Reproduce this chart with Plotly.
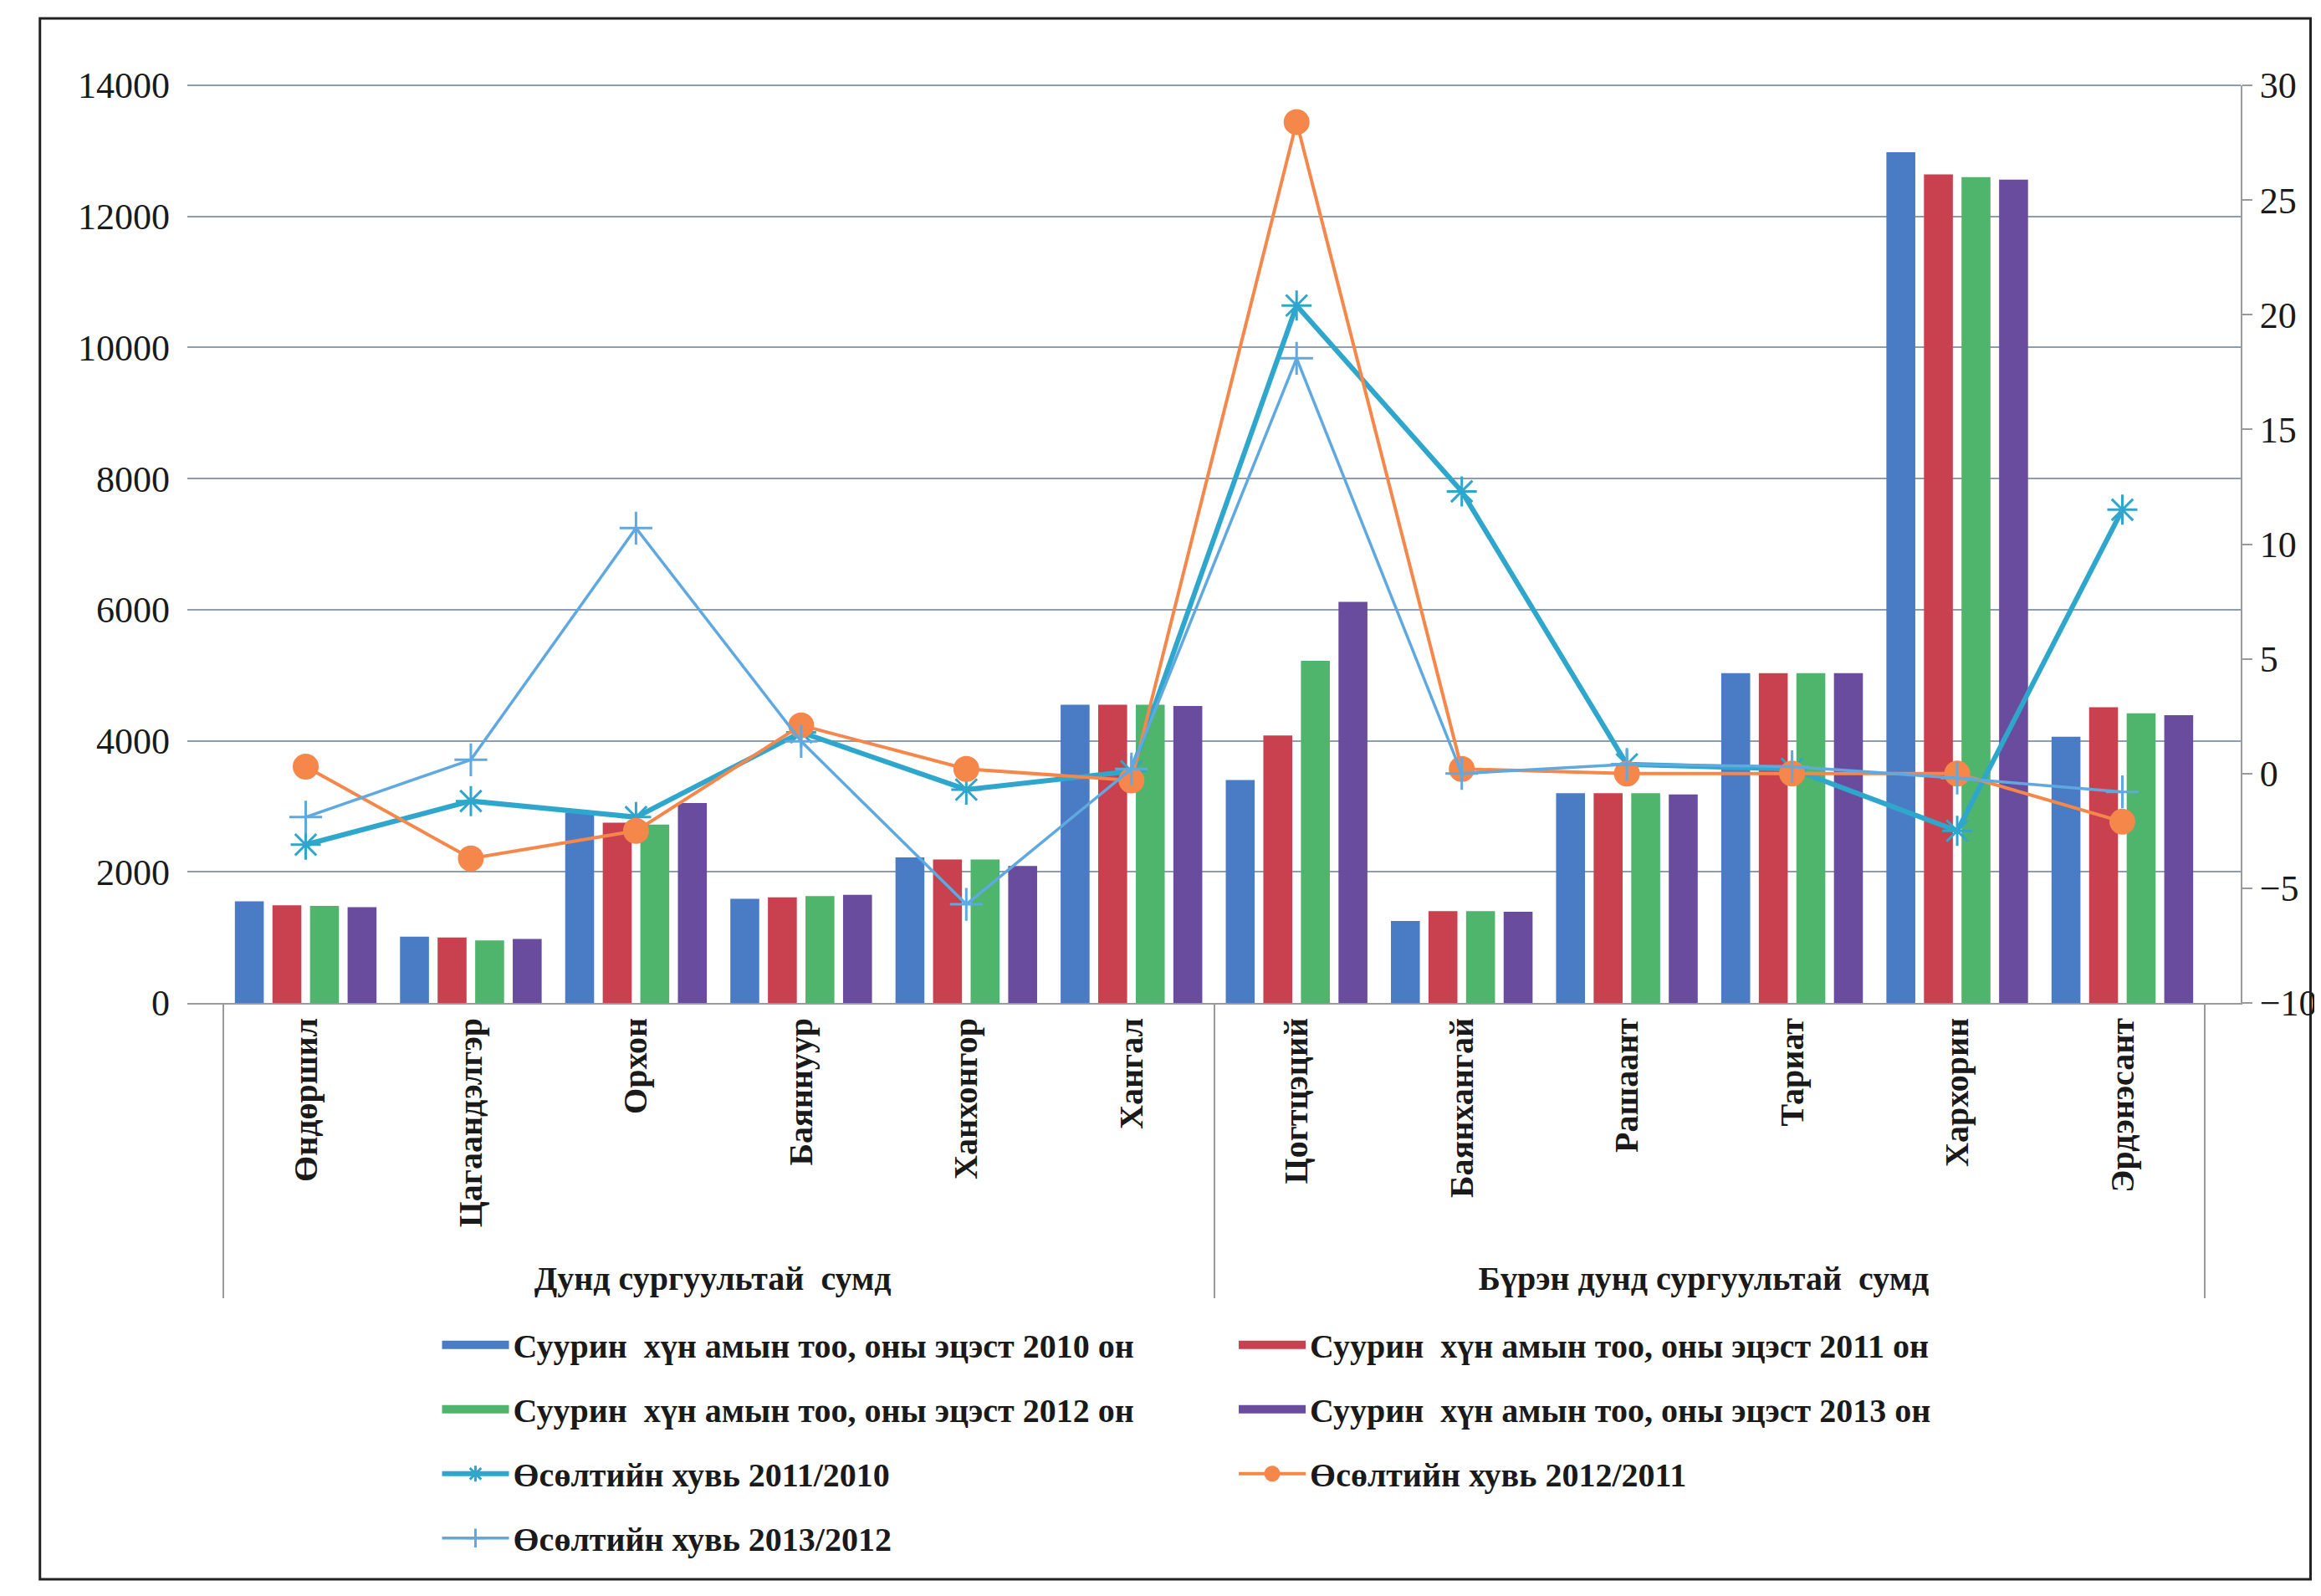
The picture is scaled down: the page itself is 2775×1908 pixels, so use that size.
import plotly.graph_objects as go

# ---------------- data ----------------
categories = ["Өндөршил", "Цагаандэлгэр", "Орхон", "Баяннуур", "Ханхонгор", "Хангал",
              "Цогтцэций", "Баянхангай", "Рашаант", "Тариат", "Хархорин", "Эрдэнэсант"]
groups = ["Дунд сургуультай  сумд"] * 6 + ["Бүрэн дунд сургуультай  сумд"] * 6

pop2010 = [1550, 1010, 2900, 1590, 2220, 4550, 3400, 1250, 3200, 5030, 12980, 4060]
pop2011 = [1490, 1000, 2750, 1610, 2190, 4550, 4080, 1400, 3200, 5030, 12640, 4510]
pop2012 = [1480, 955, 2720, 1630, 2190, 4550, 5220, 1400, 3200, 5030, 12600, 4420]
pop2013 = [1460, 975, 3050, 1650, 2090, 4530, 6120, 1390, 3180, 5030, 12560, 4390]

growth_2011_2010 = [-3.1, -1.2, -1.9, 1.8, -0.7, 0.1, 20.4, 12.3, 0.4, 0.2, -2.5, 11.5]
growth_2012_2011 = [0.3, -3.7, -2.5, 2.1, 0.2, -0.3, 28.4, 0.2, 0.0, 0.0, 0.0, -2.1]
growth_2013_2012 = [-1.9, 0.6, 10.7, 1.4, -5.7, 0.2, 18.1, 0.0, 0.4, 0.3, -0.2, -0.8]

bar_names = ["Суурин  хүн амын тоо, оны эцэст 2010 он",
             "Суурин  хүн амын тоо, оны эцэст 2011 он",
             "Суурин  хүн амын тоо, оны эцэст 2012 он",
             "Суурин  хүн амын тоо, оны эцэст 2013 он"]
line_names = ["Өсөлтийн хувь 2011/2010", "Өсөлтийн хувь 2012/2011", "Өсөлтийн хувь 2013/2012"]

# ---------------- styles ----------------
SERIF = "Liberation Serif"
bar_colors = ["#4a7cc6", "#c9414f", "#4fb56c", "#6a4c9e"]
line_colors = ["#2fa6cc", "#f5874a", "#5fa9e0"]
line_widths = [6, 4, 3.5]
line_symbols = ["asterisk-open", "circle", "cross-thin-open"]
line_sizes = [30, 28, 28]
GRID = "#8e9cb0"

x = [groups, categories]

fig = go.Figure()
for name, vals, col in zip(bar_names, [pop2010, pop2011, pop2012, pop2013], bar_colors):
    fig.add_trace(go.Bar(x=x, y=vals, name=name, marker=dict(color=col, line=dict(width=0)),
                         showlegend=False, legendgroup=name))

for name, vals, col, w, sym, sz in zip(line_names,
                                       [growth_2011_2010, growth_2012_2011, growth_2013_2012],
                                       line_colors, line_widths, line_symbols, line_sizes):
    mk = dict(symbol=sym, size=sz, color=col, line=dict(color=col, width=3))
    fig.add_trace(go.Scatter(x=x, y=vals, name=name, yaxis="y2", mode="lines+markers",
                             line=dict(color=col, width=w), marker=mk, showlegend=False,
                             legendgroup=name))

# legend entries (proxies so the bar swatches are wide rectangles as in the reference)
legend_items = [
    ("legend", bar_names[0], bar_colors[0], "bar", None),
    ("legend", bar_names[2], bar_colors[2], "bar", None),
    ("legend", line_names[0], line_colors[0], "line", 0),
    ("legend", line_names[2], line_colors[2], "line", 2),
    ("legend2", bar_names[1], bar_colors[1], "bar", None),
    ("legend2", bar_names[3], bar_colors[3], "bar", None),
    ("legend2", line_names[1], line_colors[1], "line", 1),
]
for leg, name, col, kind, li in legend_items:
    if kind == "bar":
        fig.add_trace(go.Scatter(x=[None], y=[None], name=name, mode="lines",
                                 line=dict(color=col, width=26), legend=leg,
                                 legendgroup=name, hoverinfo="skip"))
    else:
        fig.add_trace(go.Scatter(x=[None], y=[None], name=name, mode="lines+markers",
                                 line=dict(color=col, width=line_widths[li]),
                                 marker=dict(symbol=line_symbols[li], size=line_sizes[li], color=col,
                                             line=dict(color=col, width=3)),
                                 legend=leg, legendgroup=name, hoverinfo="skip"))

legend_common = dict(orientation="v", xanchor="left", yanchor="top", tracegroupgap=22,
                     bgcolor="rgba(0,0,0,0)", itemwidth=80,
                     font=dict(family=SERIF, size=40, color="#1a1a1a", weight="bold"))

fig.update_layout(
    width=2775, height=1908,
    paper_bgcolor="white", plot_bgcolor="white",
    margin=dict(l=216, r=94, t=94, b=717),
    barmode="group", bargap=0.09, bargroupgap=0.23,
    showlegend=True,
    xaxis=dict(type="multicategory", tickangle=-90, showdividers=True,
               dividercolor="#9a9a9a", dividerwidth=2,
               showline=True, linecolor="#9a9a9a", linewidth=2, ticks="",
               tickfont=dict(family=SERIF, size=40, color="#1a1a1a", weight="bold")),
    yaxis=dict(range=[0, 14000], tick0=0, dtick=2000, showgrid=True, gridcolor=GRID, gridwidth=2,
               zeroline=False, showline=False, ticks="", ticklabelstandoff=20, tickformat="d",
               tickfont=dict(family=SERIF, size=44, color="#1a1a1a")),
    yaxis2=dict(range=[-10, 30], tick0=-10, dtick=5, overlaying="y", side="right",
                showgrid=False, zeroline=False, showline=True, linecolor="#9a9a9a", linewidth=2,
                ticks="outside", ticklen=12, tickcolor="#9a9a9a", tickwidth=2,
                tickfont=dict(family=SERIF, size=44, color="#1a1a1a")),
    legend=dict(x=0.122, y=-0.343, **legend_common),
    legend2=dict(x=0.51, y=-0.343, **legend_common),
    shapes=[
        # top gridline (plotly omits the gridline lying on the edge of the range)
        dict(type="line", xref="paper", yref="paper", x0=0, x1=1, y0=1, y1=1,
             line=dict(color=GRID, width=2), layer="below"),
        # outer frame of the chart
        dict(type="rect", xref="paper", yref="paper",
             x0=-0.0718, x1=1.034, y0=-0.628, y1=1.073,
             line=dict(color="#222222", width=3)),
    ],
)

fig.write_html("out.html")
